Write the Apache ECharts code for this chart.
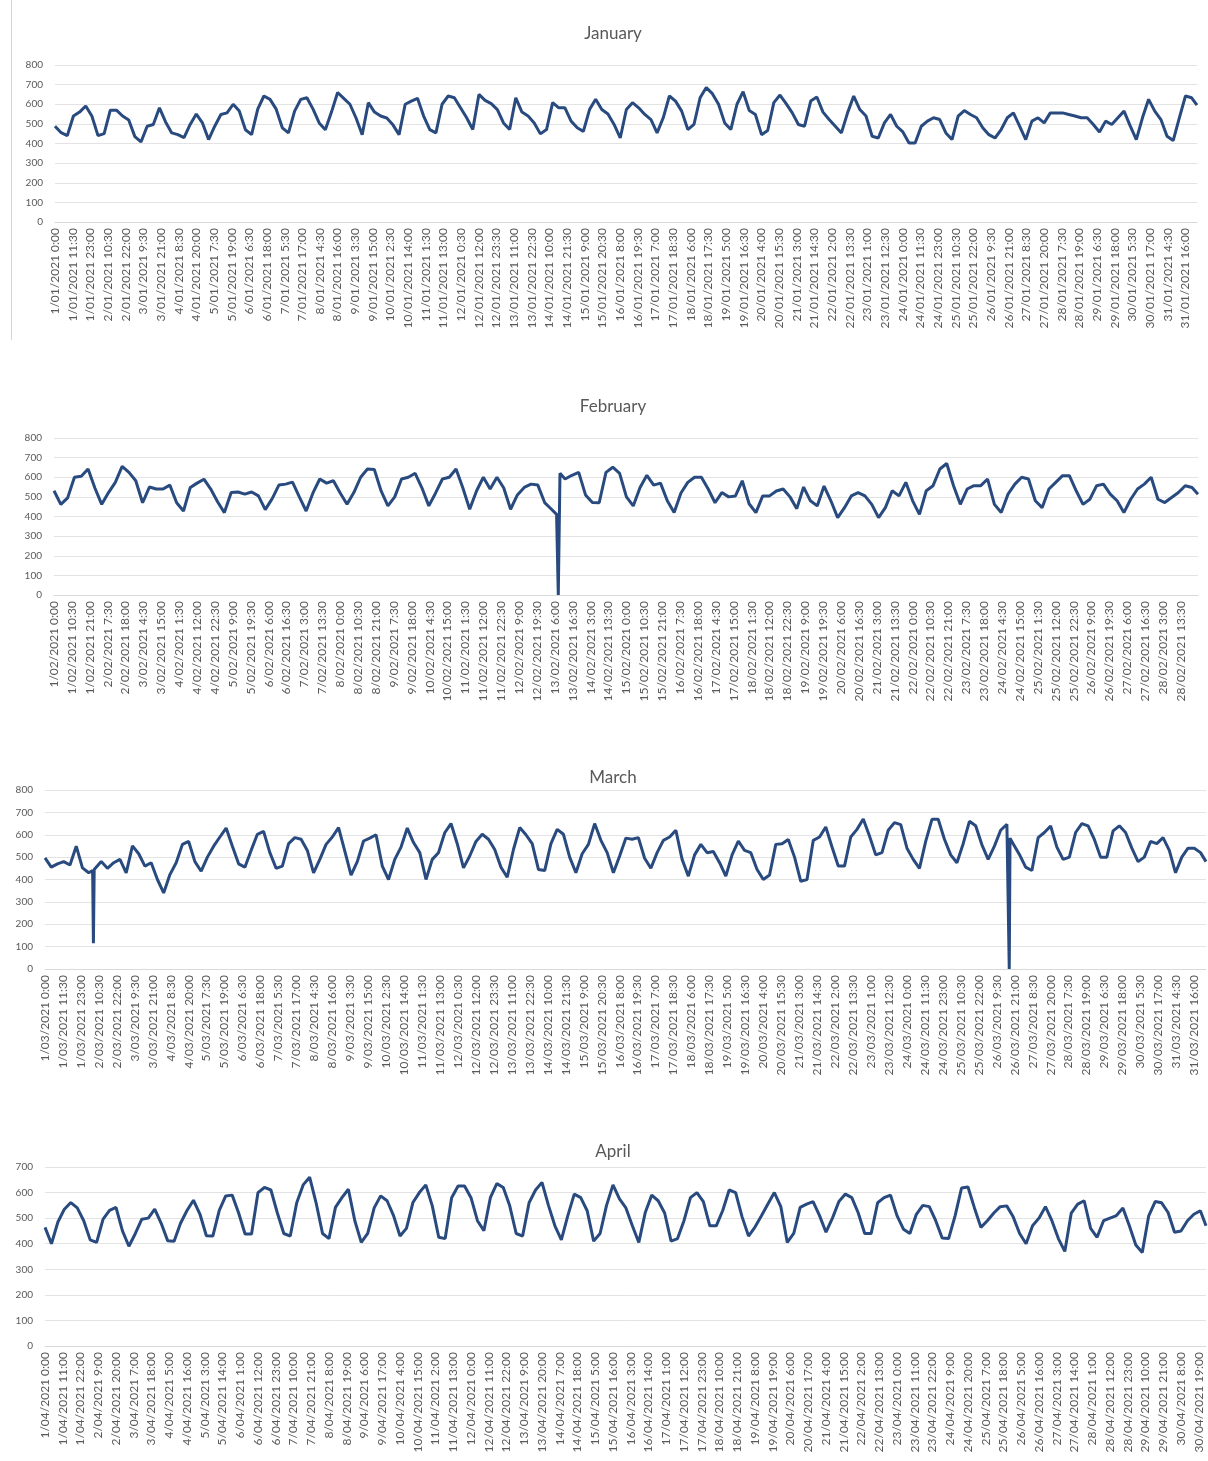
<!DOCTYPE html>
<html>
<head>
<meta charset="utf-8">
<script src="https://cdn.jsdelivr.net/npm/echarts@6/dist/echarts.min.js"></script>
<style>
  html, body { margin: 0; padding: 0; background: #fff; }
  #chart { position: absolute; left: 0; top: 0; width: 1208px; height: 1461px; }
  #edge { position: absolute; left: 11px; top: 0; width: 1px; height: 340px; background: #d4d4d4; }
</style>
</head>
<body>
<div id="chart"></div>
<div id="edge"></div>
<script>
// readings every 4 hours (0:00, 4:00, 8:00, 12:00, 16:00, 20:00), one row per day
const STEP = 8; // half-hour slots between readings

const janValues = [
  488, 455, 440, 540, 560, 591,
  540, 440, 450, 570, 570, 540,
  520, 435, 408, 488, 497, 582,
  510, 454, 445, 430, 497, 550,
  505, 420, 488, 548, 556, 600,
  565, 470, 445, 575, 642, 625,
  575, 480, 454, 565, 625, 633,
  575, 505, 470, 560, 660, 630,
  600, 530, 445, 608, 560, 540,
  530, 495, 445, 600, 616, 630,
  540, 471, 454, 600, 642, 633,
  582, 531, 471, 650, 620, 603,
  573, 505, 471, 633, 560, 540,
  505, 449, 471, 608, 582, 582,
  514, 480, 462, 573, 625, 573,
  550, 497, 428, 573, 608, 582,
  548, 522, 454, 531, 642, 616,
  565, 471, 497, 633, 685, 654,
  600, 505, 471, 600, 664, 568,
  548, 445, 466, 608, 647, 603,
  556, 497, 488, 616, 637, 560,
  522, 488, 454, 556, 642, 573,
  540, 437, 428, 505, 548, 488,
  459, 403, 403, 488, 514, 531,
  522, 454, 420, 540, 568, 548,
  531, 480, 445, 428, 471, 531,
  556, 488, 420, 514, 531, 505,
  556, 556, 556, 548, 540, 531,
  531, 497, 459, 514, 497, 531,
  565, 490, 420, 531, 625, 565,
  522, 437, 415, 531, 642, 633
];
const janExtraSlots = [1487];
const janExtraValues = [595];

const febValues = [
  531, 462, 495, 600, 605, 642,
  545, 462, 522, 574, 655, 625,
  582, 470, 550, 540, 540, 560,
  470, 428, 548, 570, 590, 540,
  475, 420, 522, 525, 514, 525,
  505, 435, 490, 560, 565, 575,
  500, 428, 520, 591, 570, 582,
  520, 462, 522, 600, 642, 640,
  530, 454, 500, 591, 600, 620,
  545, 454, 520, 591, 600, 642,
  545, 437, 530, 600, 540, 600,
  545, 437, 510, 548, 565, 560,
  471, 437, 0, 591, 610, 625,
  510, 471, 470, 625, 651, 620,
  500, 454, 548, 610, 560, 570,
  480, 420, 520, 574, 600, 600,
  540, 470, 522, 500, 505, 582,
  465, 420, 505, 505, 530, 540,
  500, 440, 550, 480, 454, 555,
  480, 394, 445, 505, 522, 505,
  462, 394, 445, 531, 505, 574,
  480, 411, 531, 557, 642, 670,
  557, 462, 540, 557, 557, 591,
  462, 420, 514, 565, 600, 591,
  480, 445, 540, 574, 608, 608,
  531, 462, 488, 557, 565, 514,
  480, 420, 488, 540, 565, 600,
  488, 471, 497, 522, 557, 548
];
const febExtraSlots = [590, 594, 1343];
const febExtraValues = [411, 620, 514];

const marValues = [
  497, 455, 470, 480, 465, 549,
  452, 430, 440, 480, 450, 475,
  490, 430, 550, 515, 460, 475,
  400, 340, 422, 475, 557, 570,
  480, 437, 500, 549, 590, 630,
  549, 470, 455, 530, 602, 615,
  520, 450, 460, 560, 587, 580,
  530, 430, 490, 557, 590, 632,
  527, 420, 480, 572, 585, 600,
  460, 400, 490, 545, 630, 565,
  520, 400, 490, 520, 609, 650,
  560, 452, 505, 570, 602, 580,
  534, 455, 410, 534, 632, 600,
  560, 445, 440, 560, 624, 602,
  500, 430, 515, 557, 650, 575,
  520, 430, 505, 585, 580, 587,
  495, 450, 520, 575, 590, 620,
  490, 415, 510, 557, 520, 525,
  475, 415, 510, 572, 530, 520,
  445, 400, 420, 557, 560, 579,
  500, 392, 400, 575, 590, 635,
  545, 460, 460, 590, 624, 670,
  594, 510, 520, 620, 654, 645,
  540, 490, 450, 570, 669, 669,
  580, 510, 475, 560, 660, 640,
  555, 490, 549, 620, 647, 560,
  512, 455, 440, 587, 610, 639,
  545, 490, 500, 610, 650, 640,
  579, 500, 500, 617, 640, 610,
  540, 480, 500, 570, 560, 587,
  530, 430, 500, 540, 540, 520
];
const marExtraSlots = [61, 62, 63, 1234, 1235, 1236, 1487];
const marExtraValues = [440, 115, 445, 640, 0, 585, 480];

const aprValues = [
  464, 400, 485, 535, 561, 540,
  490, 415, 405, 496, 530, 542,
  450, 390, 440, 496, 500, 535,
  480, 412, 410, 480, 530, 570,
  516, 431, 430, 530, 587, 590,
  520, 438, 438, 600, 620, 610,
  520, 440, 430, 560, 630, 660,
  560, 440, 420, 542, 580, 613,
  490, 405, 440, 540, 587, 568,
  510, 430, 460, 561, 600, 630,
  548, 425, 420, 580, 626, 626,
  580, 490, 451, 580, 635, 620,
  548, 440, 430, 560, 610, 640,
  550, 470, 415, 510, 594, 580,
  529, 410, 440, 550, 630, 575,
  540, 470, 405, 522, 590, 568,
  520, 410, 420, 490, 580, 600,
  565, 470, 470, 530, 610, 600,
  505, 430, 465, 509, 555, 600,
  545, 405, 440, 542, 555, 565,
  510, 445, 500, 565, 594, 580,
  520, 440, 440, 560, 580, 590,
  510, 457, 440, 515, 550, 545,
  490, 422, 420, 509, 618, 622,
  540, 464, 490, 520, 545, 548,
  505, 440, 400, 470, 500, 545,
  490, 420, 370, 520, 555, 568,
  460, 425, 490, 500, 510, 540,
  470, 395, 366, 509, 565, 560,
  522, 445, 450, 490, 515, 529
];
const aprExtraSlots = [1439];
const aprExtraValues = [470];

// half-hour category labels, e.g. "1/01/2021 0:00"
function slotLabels(month, days) {
  const out = [];
  const mm = String(month).padStart(2, '0');
  for (let d = 1; d <= days; d++) {
    for (let s = 0; s < 48; s++) {
      out.push(d + '/' + mm + '/2021 ' + Math.floor(s / 2) + ':' + (s % 2 ? '30' : '00'));
    }
  }
  return out;
}

function buildSeries(values, extraSlots, extraValues) {
  const pts = values.map((v, k) => [k * STEP, v]);
  extraSlots.forEach((slot, k) => pts.push([slot, extraValues[k]]));
  pts.sort((a, b) => a[0] - b[0]);
  return pts;
}

const panels = [
  { title: 'January', month: 1, days: 31, values: janValues, xs: janExtraSlots, xv: janExtraValues,
    yMax: 800, every: 23, grid: { left: 55, right: 11, top: 65, height: 157 }, titleTop: 25 },
  { title: 'February', month: 2, days: 28, values: febValues, xs: febExtraSlots, xv: febExtraValues,
    yMax: 800, every: 21, grid: { left: 54, right: 10, top: 438, height: 157 }, titleTop: 398 },
  { title: 'March', month: 3, days: 31, values: marValues, xs: marExtraSlots, xv: marExtraValues,
    yMax: 800, every: 23, grid: { left: 45, right: 2, top: 790, height: 179 }, titleTop: 769 },
  { title: 'April', month: 4, days: 30, values: aprValues, xs: aprExtraSlots, xv: aprExtraValues,
    yMax: 700, every: 22, grid: { left: 45, right: 2, top: 1167, height: 179 }, titleTop: 1143 }
];

const textColor = '#595959';
const font = 'Lato';

const chart = echarts.init(document.getElementById('chart'));

const option = {
  animation: false,
  backgroundColor: '#ffffff',
  title: panels.map(p => ({
    text: p.title,
    left: 613,
    textAlign: 'center',
    top: p.titleTop,
    padding: 0,
    textStyle: { color: textColor, fontSize: 17, fontWeight: 'normal', fontFamily: font }
  })),
  grid: panels.map(p => Object.assign({ containLabel: false }, p.grid)),
  xAxis: panels.map((p, i) => ({
    type: 'category',
    gridIndex: i,
    data: slotLabels(p.month, p.days),
    boundaryGap: false,
    axisTick: { show: false },
    axisLine: { lineStyle: { color: '#d9d9d9' } },
    axisLabel: {
      interval: p.every - 1,
      rotate: 90,
      fontSize: 12,
      color: textColor,
      fontFamily: font,
      margin: 6
    }
  })),
  yAxis: panels.map((p, i) => ({
    type: 'value',
    gridIndex: i,
    min: 0,
    max: p.yMax,
    interval: 100,
    axisLine: { show: false },
    axisTick: { show: false },
    axisLabel: { fontSize: 10, color: textColor, fontFamily: font, margin: 12 },
    splitLine: { lineStyle: { color: '#e3e3e3' } }
  })),
  series: panels.map((p, i) => ({
    type: 'line',
    xAxisIndex: i,
    yAxisIndex: i,
    showSymbol: false,
    data: buildSeries(p.values, p.xs, p.xv),
    lineStyle: { color: '#284a7e', width: 3 },
    itemStyle: { color: '#284a7e' }
  }))
};

chart.setOption(option);
</script>
</body>
</html>
